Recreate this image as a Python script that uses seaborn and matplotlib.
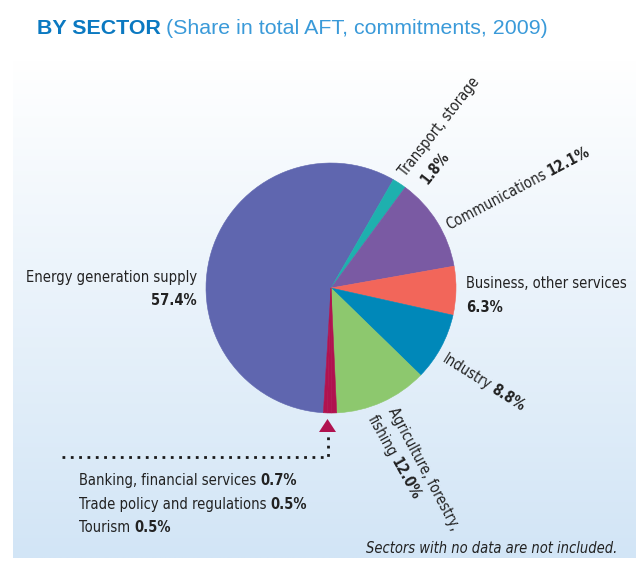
import os
import numpy as np
import matplotlib
matplotlib.use("Agg")
import matplotlib.pyplot as plt
import seaborn as sns
from matplotlib.font_manager import FontProperties, fontManager
from matplotlib.patches import Polygon

# data (clockwise from the small slices at the bottom)
sectors = ["Energy generation supply", "Transport, storage", "Communications",
           "Business, other services", "Industry", "Agriculture, forestry, fishing",
           "Banking, financial services", "Trade policy and regulations", "Tourism"]
shares = [57.4, 1.8, 12.1, 6.3, 8.8, 12.0, 0.7, 0.5, 0.5]
slice_colors = ["#5f66af", "#1eb0ae", "#7a5aa3", "#f2665a", "#0088b9",
                "#8dc86e", "#b0124f", "#b0124f", "#b0124f"]

sns.set_theme(style="white")
plt.rcParams["font.family"] = ["Liberation Sans", "DejaVu Sans"]

# look for condensed faces, the chart uses a narrow font
files = {os.path.basename(f.fname): f.fname for f in fontManager.ttflist}


def pick(candidates, fallback):
    for c in candidates:
        if all(n in files for n in c):
            return [FontProperties(fname=files[n]) for n in c]
    return fallback


label_faces = pick([
    ("NotoSans-ExtraCondensed.ttf", "NotoSans-ExtraCondensedBold.ttf", "NotoSans-ExtraCondensedItalic.ttf"),
    ("LiberationSansNarrow-Regular.ttf", "LiberationSansNarrow-Bold.ttf", "LiberationSansNarrow-Italic.ttf"),
    ("NotoSans-Condensed.ttf", "NotoSans-CondensedBold.ttf", "NotoSans-CondensedItalic.ttf"),
    ("DejaVuSansCondensed.ttf", "DejaVuSansCondensed-Bold.ttf", "DejaVuSansCondensed-Oblique.ttf"),
], [FontProperties(family="Roboto"), FontProperties(family="Roboto", weight="bold"),
    FontProperties(family="Roboto", style="italic")])
faces = dict(zip(["normal", "bold", "italic"], label_faces))

title_faces = pick([
    ("NotoSans-SemiCondensedBold.ttf", "NotoSans-SemiCondensed.ttf"),
], [FontProperties(family="Liberation Sans", weight="bold"),
    FontProperties(family="Liberation Sans")])

W, H = 636, 562
fig = plt.figure(figsize=(W / 100, H / 100), dpi=100)
fig.patch.set_facecolor("white")

# gradient panel behind everything
bg = fig.add_axes([0, 0, 1, 1], zorder=0)
bg.set_xlim(0, W)
bg.set_ylim(H, 0)
bg.axis("off")
top = np.array([1.0, 1.0, 1.0])
bottom = np.array([0xd2, 0xe5, 0xf6]) / 255
t = np.linspace(0, 1, 256)[:, None]
grad = (1 - t) * top + t * bottom
bg.imshow(grad[:, None, :].repeat(2, axis=1), extent=[13, W, 558, 60],
          aspect="auto", interpolation="bilinear")

# pie
cx, cy, r = 331, 288, 125
pax = fig.add_axes([(cx - r) / W, (H - cy - r) / H, 2 * r / W, 2 * r / H], zorder=1)
wedges, _ = pax.pie(shares, colors=slice_colors, startangle=266.5, counterclock=False,
                    wedgeprops=dict(linewidth=0.4))
for w, c in zip(wedges, slice_colors):
    w.set_edgecolor(c)
pax.set_xlim(-1, 1)
pax.set_ylim(-1, 1)
pax.set_aspect("equal")
pax.axis("off")

# overlay in pixel coordinates for labels
tax = fig.add_axes([0, 0, 1, 1], zorder=3)
tax.patch.set_alpha(0)
tax.set_xlim(0, W)
tax.set_ylim(H, 0)
tax.axis("off")
renderer = fig.canvas.get_renderer()

TXT = "#222222"


def sized(prop, size):
    p = prop.copy()
    p.set_size(size)
    return p


def text_width(s, prop):
    o = tax.text(0, 0, s, fontproperties=prop)
    w = o.get_window_extent(renderer).width
    o.remove()
    return w


# label size so "Energy generation supply" is about as wide as in the chart
FS = 10 * 152 / text_width(sectors[0], sized(faces["normal"], 10))
FS = float(np.clip(FS, 10.5, 13.5))


def pct(v):
    return f"{v:.1f}%"


def rich(x, y, parts, rot=0, size=None, ha="left", gap=4):
    size = size or FS
    th = np.radians(rot)
    widths = []
    objs = []
    for s, kind in parts:
        o = tax.text(0, 0, s, fontproperties=sized(faces[kind], size), color=TXT,
                     ha="left", va="baseline", rotation_mode="anchor")
        widths.append(o.get_window_extent(renderer).width)
        objs.append(o)
    total = sum(widths) + gap * (len(parts) - 1)
    off = -total if ha == "right" else 0
    for o, wd in zip(objs, widths):
        o.set_position((x + off * np.cos(th), y - off * np.sin(th)))
        o.set_rotation(rot)
        off += wd + gap


# title, sized to span about 37..548 px
t1, t2 = "BY SECTOR", "(Share in total AFT, commitments, 2009)"
w1 = text_width(t1, sized(title_faces[0], 15))
w2 = text_width(t2, sized(title_faces[1], 15))
TS = float(np.clip(15 * 506 / (w1 + w2), 13, 17))
tt = tax.text(37, 34, t1, fontproperties=sized(title_faces[0], TS),
              color="#0b79c1", ha="left", va="baseline")
tw = tt.get_window_extent(renderer).width
tax.text(37 + tw + 5, 34, t2, fontproperties=sized(title_faces[1], TS),
         color="#3a9ad9", ha="left", va="baseline")

# slice labels
rich(197, 282, [(sectors[0], "normal")], ha="right")
rich(197, 305, [(pct(shares[0]), "bold")], ha="right")

rich(406, 177, [("Transport, storage", "normal")], rot=52)
rich(428, 185, [(pct(shares[1]), "bold")], rot=52)

rich(449, 230, [(sectors[2], "normal"), (pct(shares[2]), "bold")], rot=28)

rich(466, 288, [(sectors[3], "normal")])
rich(466, 312, [(pct(shares[3]), "bold")])

rich(441, 361, [(sectors[4], "normal"), (pct(shares[4]), "bold")], rot=-32)

rich(388, 411, [("Agriculture, forestry,", "normal")], rot=-62)
rich(367, 419, [("fishing", "normal"), (pct(shares[5]), "bold")], rot=-61)

# small sectors block with pointer
for i, yb in zip(range(6, 9), [485, 509, 532]):
    rich(79, yb, [(sectors[i], "normal"), (pct(shares[i]), "bold")])

tax.plot([62, 328, 328], [457, 457, 432], color="#1a1a1a", lw=2,
         linestyle=(0, (1, 2)))
tax.add_patch(Polygon([(319, 432), (336, 432), (327.5, 419)], closed=True,
                      facecolor="#b0124f", edgecolor="none"))

# footnote
rich(617, 553, [("Sectors with no data are not included.", "italic")], ha="right")

fig.savefig("out.png", dpi=100)
